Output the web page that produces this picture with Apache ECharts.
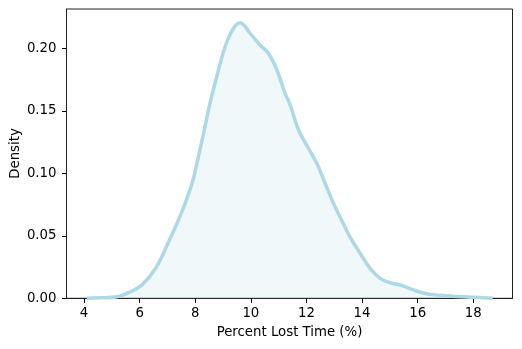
<!DOCTYPE html>
<html>
<head>
<meta charset="utf-8">
<script src="https://cdn.jsdelivr.net/npm/echarts@6/dist/echarts.min.js"></script>
<style>html,body{margin:0;padding:0;background:#fff}#c{width:522px;height:349px}</style>
</head>
<body>
<div id="c"></div>
<script>
const xValues = [4.1, 4.6, 5.2, 5.65, 6.1, 6.6, 7.1, 7.55, 7.9, 8.1, 8.3, 8.5, 8.77, 9.07, 9.31, 9.45, 9.61, 9.78, 9.97, 10.33, 10.63, 10.93, 11.23, 11.41, 11.71, 12.07, 12.37, 12.67, 12.97, 13.21, 13.57, 13.93, 14.29, 14.65, 15.0, 15.37, 15.7, 16.09, 16.5, 16.81, 17.4, 18.0, 18.7];
const densityValues = [0.0001, 0.0004, 0.0013, 0.005, 0.011, 0.025, 0.048, 0.071, 0.093, 0.112, 0.132, 0.153, 0.177, 0.201, 0.2135, 0.2182, 0.2204, 0.2178, 0.212, 0.2026, 0.196, 0.183, 0.164, 0.155, 0.135, 0.120, 0.108, 0.092, 0.076, 0.065, 0.049, 0.036, 0.024, 0.016, 0.0125, 0.0106, 0.008, 0.0048, 0.003, 0.0024, 0.0015, 0.0008, 0.0001];
const xTicks = [4, 6, 8, 10, 12, 14, 16, 18];
const yTicks = [0, 0.05, 0.10, 0.15, 0.20];
const xLabel = 'Percent Lost Time (%)';
const yLabel = 'Density';

const font = 'DejaVu Sans';
const fs = 13.3;
const chart = echarts.init(document.getElementById('c'), null, {renderer: 'canvas'});
chart.setOption({
  animation: false,
  grid: {left: 66.5, right: 9.5, top: 9, bottom: 50.7, show: true, borderColor: '#222', borderWidth: 1, backgroundColor: 'transparent'},
  xAxis: {
    type: 'value', min: 3.37, max: 19.41,
    axisLine: {show: true, lineStyle: {color: '#222', width: 1}},
    axisTick: {show: true, length: 4.5, lineStyle: {color: '#000'}, customValues: xTicks},
    axisLabel: {customValues: xTicks, color: '#000', fontFamily: font, fontSize: fs, margin: 9, formatter: v => String(v)},
    splitLine: {show: false}
  },
  yAxis: {
    type: 'value', min: 0, max: 0.2314,
    axisLine: {show: true, lineStyle: {color: '#222', width: 1}},
    axisTick: {show: true, length: 4.5, lineStyle: {color: '#000'}, customValues: yTicks},
    axisLabel: {customValues: yTicks, color: '#000', fontFamily: font, fontSize: fs, margin: 10, formatter: v => v.toFixed(2)},
    splitLine: {show: false}
  },
  graphic: [
    {type: 'text', style: {text: xLabel, font: fs + 'px "DejaVu Sans"', fill: '#000', textAlign: 'center', textVerticalAlign: 'middle'}, x: 289.5, y: 332.5},
    {type: 'text', style: {text: yLabel, font: fs + 'px "DejaVu Sans"', fill: '#000', textAlign: 'center', textVerticalAlign: 'middle'}, x: 15.5, y: 153.5, rotation: Math.PI / 2}
  ],
  series: [{
    type: 'line',
    data: xValues.map((x, i) => [x, densityValues[i]]),
    smooth: 0.4,
    showSymbol: false,
    lineStyle: {color: '#add8e6', width: 3.5},
    areaStyle: {color: 'rgba(173,216,230,0.27)'},
    z: 3
  }]
});
</script>
</body>
</html>
